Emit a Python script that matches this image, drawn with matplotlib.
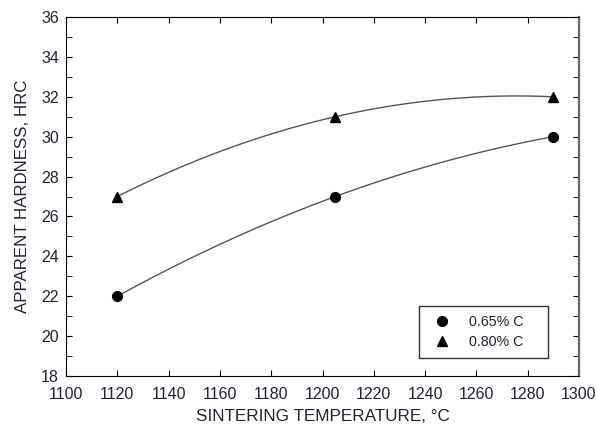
import numpy as np
import matplotlib
matplotlib.use("Agg")
import matplotlib.pyplot as plt
from matplotlib.ticker import MultipleLocator

plt.rcParams['font.family'] = ['Liberation Sans', 'DejaVu Sans']

# sintering temperatures and hardness values
temps = [1120, 1205, 1290]
hrc_065 = [22, 27, 30]
hrc_080 = [27, 31, 32]

fig = plt.figure(figsize=(5.96, 4.30), dpi=100)
ax = fig.add_axes([66 / 596, 1 - 376 / 430, (579 - 66) / 596, (376 - 17) / 430])

# smooth 2nd order fit through each set
xs = np.linspace(temps[0], temps[-1], 200)
for vals in (hrc_065, hrc_080):
    c = np.polyfit(temps, vals, 2)
    ax.plot(xs, np.polyval(c, xs), color='#555555', lw=1.0, zorder=2)

ax.plot(temps, hrc_065, 'o', color='black', ms=7, ls='none', label='0.65% C    ', zorder=3)
ax.plot(temps, hrc_080, '^', color='black', ms=7, ls='none', label='0.80% C    ', zorder=3)

ax.set_xlim(1100, 1300)
ax.set_ylim(18, 36)
ax.xaxis.set_major_locator(MultipleLocator(20))
ax.yaxis.set_major_locator(MultipleLocator(2))
ax.yaxis.set_minor_locator(MultipleLocator(1))
ax.tick_params(which='both', direction='in', top=True, right=True, length=4,
               labelsize=11.5, labelcolor='#222233')
ax.tick_params(axis='x', pad=8)
ax.tick_params(axis='y', pad=5)
ax.spines['right'].set_color('#666666')
ax.spines['right'].set_linewidth(1.6)

ax.set_xlabel('SINTERING TEMPERATURE, °C', fontsize=12.3, color='#222233', labelpad=5)
ax.set_ylabel('APPARENT HARDNESS, HRC', fontsize=12.2, color='#222233', labelpad=8)

leg = ax.legend(loc='lower right', bbox_to_anchor=(548 / 596, 1 - 358 / 430),
                bbox_transform=fig.transFigure, fontsize=10.3, frameon=True,
                fancybox=False, edgecolor='black', borderpad=0.6, handletextpad=0.9,
                labelspacing=0.45, borderaxespad=0)
leg.get_frame().set_linewidth(1.0)
for t in leg.get_texts():
    t.set_color('#222233')

fig.savefig('out.png', dpi=100)
